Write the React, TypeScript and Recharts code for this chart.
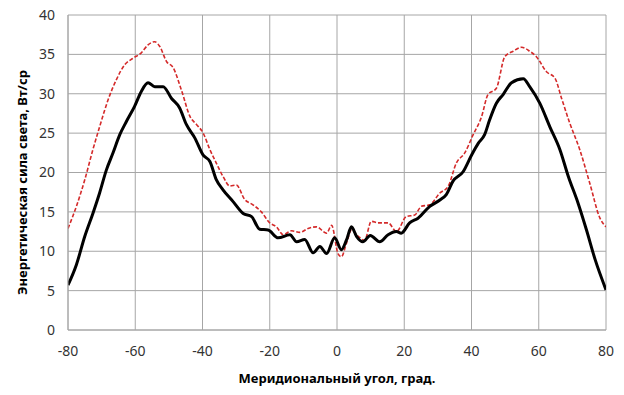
import { LineChart, Line, XAxis, YAxis, CartesianGrid } from "recharts";

// угол, град. / сила света, Вт/ср — сплошная кривая
const blackAngle = [
  -80, -77.5, -75, -72.6, -70.6, -68.6, -66.6, -64.6, -62.6, -60.2, -58.2, -56.2, -54.2, -51.7,
  -49.2, -46.8, -44.8, -42.3, -39.8, -37.8, -35.9, -33.9, -30.9, -27.9, -25.4, -23, -20.5, -17.5,
  -14, -12, -9.6, -7.1, -5.1, -3.1, -0.7, 1.3, 2.8, 4.3, 5.8, 7.7, 9.9, 12.7, 15.2, 17.7, 19.1,
  21.6, 24.1, 27.6, 30.6, 32.5, 34.5, 37.5, 40, 42, 43.9, 45.4, 47.4, 49.4, 51.9, 55.4, 57.3,
  60.3, 63.3, 66.3, 68.8, 71.7, 74.2, 76.8, 80,
];
const blackValue = [
  5.7, 8.3, 11.9, 14.8, 17.4, 20.3, 22.5, 24.8, 26.5, 28.4, 30.3, 31.4, 30.9, 30.9,
  29.4, 28.2, 26.1, 24.4, 22.2, 21.4, 19.1, 17.8, 16.3, 14.8, 14.4, 12.8, 12.7, 11.7,
  12.1, 11.2, 11.5, 9.8, 10.6, 9.7, 11.7, 10.2, 11.4, 13.1, 11.9, 11.2, 12.0, 11.2, 12.1, 12.5, 12.3,
  13.6, 14.2, 15.7, 16.5, 17.2, 18.9, 20.1, 22.2, 23.7, 24.8, 26.7, 28.8, 29.9, 31.4, 31.9, 30.9,
  28.8, 25.8, 22.9, 19.5, 16.1, 12.7, 8.9, 5.1,
];

// пунктирная кривая
const redAngle = [
  -80, -77.5, -75, -72.6, -70.6, -68.1, -65.6, -63.1, -60.7, -58.2, -56.2, -54.2, -52.7, -50.7,
  -48.7, -46.3, -43.7, -41.8, -39.8, -37.8, -35.9, -33.9, -31.9, -29.9, -27.5, -25, -22.5, -20,
  -18, -16, -13.5, -11, -8.6, -6.1, -3.1, -1.6, 0.3, 1.3, 2.8, 4.3, 6.3, 8.2, 10.2, 12.2, 15.2,
  17.7, 20.6, 23.1, 25.1, 27.6, 30.6, 33, 35.5, 38, 40.5, 43, 44.9, 47.4, 49.9, 52.4, 54.9, 57.3,
  59.3, 62.3, 64.8, 66.8, 69.2, 72.2, 75.2, 78.2, 80,
];
const redValue = [
  12.9, 15.7, 19.1, 22.9, 25.8, 29.2, 31.8, 33.7, 34.5, 35.2, 36.2, 36.6, 36.0, 34.1,
  33.3, 30.5, 27.1, 26.1, 25.0, 22.9, 21.2, 19.5, 18.3, 18.4, 16.6, 15.9, 15.0, 13.6,
  13.1, 12.1, 12.6, 12.4, 12.9, 13.1, 12.3, 13.3, 9.7, 9.3, 11.0, 12.7, 11.9, 11.4, 13.8, 13.6, 13.6,
  12.5, 14.4, 14.6, 15.7, 15.9, 17.4, 18.2, 21.2, 22.5, 24.8, 27.1, 29.9, 30.7, 34.7, 35.4, 35.9, 35.4,
  34.7, 32.8, 32.0, 29.4, 26.3, 22.9, 18.6, 14.2, 13.1,
];

const xTicks = [-80, -60, -40, -20, 0, 20, 40, 60, 80];
const yTicks = [0, 5, 10, 15, 20, 25, 30, 35, 40];

const blackData = blackAngle.map((a, i) => ({ angle: a, value: blackValue[i] }));
const redData = redAngle.map((a, i) => ({ angle: a, value: redValue[i] }));

const FONT = "'Noto Sans', sans-serif";

export default function App() {
  // сдвиг вверх на 8px, чтобы подпись «40» не обрезалась краем svg
  return (
    <div style={{ fontFamily: FONT, marginTop: -8 }}>
      <LineChart width={608} height={388} margin={{ top: 15, right: 10, left: 0, bottom: 3 }}>
        <CartesianGrid stroke="#a6a6a6" strokeWidth={1} />
        <XAxis
          type="number"
          dataKey="angle"
          domain={[-80, 80]}
          ticks={xTicks}
          allowDataOverflow
          axisLine={{ stroke: "#a6a6a6" }}
          tickLine={false}
          tickMargin={10}
          tick={{ fontSize: 14, fill: "#333", fontFamily: FONT }}
          height={55}
          label={{
            value: "Меридиональный  угол, град.",
            position: "insideBottom",
            offset: 2,
            style: { fontSize: 13, fontWeight: 700, fill: "#000", fontFamily: FONT, whiteSpace: "pre" },
          }}
        />
        <YAxis
          type="number"
          domain={[0, 40]}
          ticks={yTicks}
          width={60}
          axisLine={{ stroke: "#a6a6a6" }}
          tickLine={false}
          tickMargin={7}
          tick={{ fontSize: 14, fill: "#333", fontFamily: FONT }}
          label={{
            value: "Энергетическая  сила света, Вт/ср",
            angle: -90,
            position: "insideLeft",
            offset: 14,
            dy: 10,
            style: { fontSize: 13, fontWeight: 700, fill: "#000", fontFamily: FONT, textAnchor: "middle", whiteSpace: "pre" },
          }}
        />
        <Line
          data={redData}
          dataKey="value"
          type="monotone"
          stroke="#d42a2a"
          strokeWidth={1.6}
          strokeDasharray="4 2"
          dot={false}
          isAnimationActive={false}
        />
        <Line
          data={blackData}
          dataKey="value"
          type="monotone"
          stroke="#000"
          strokeWidth={3}
          dot={false}
          isAnimationActive={false}
        />
      </LineChart>
    </div>
  );
}
